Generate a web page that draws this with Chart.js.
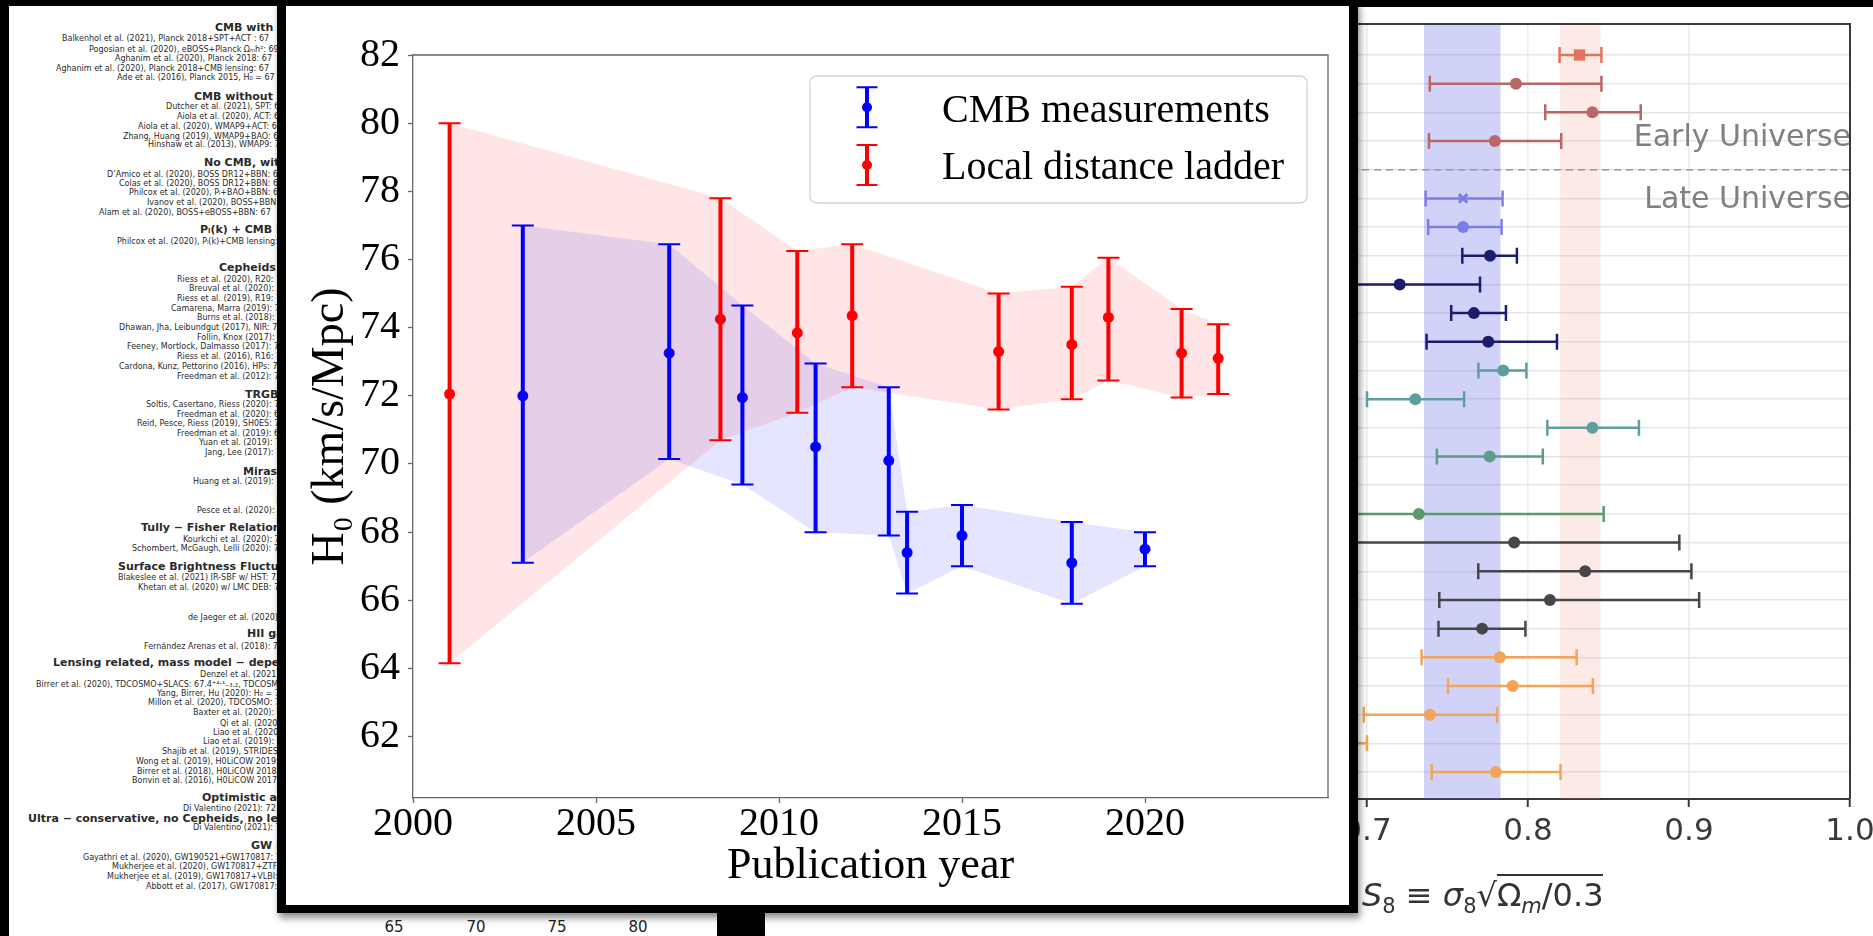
<!DOCTYPE html>
<html>
<head>
<meta charset="utf-8">
<script src="https://cdn.jsdelivr.net/npm/chart.js@4.4.1/dist/chart.umd.min.js"></script>
<style>
  html, body { margin: 0; padding: 0; }
  body { width: 1873px; height: 936px; overflow: hidden; background: #fff; position: relative; }
  #leftText div { position: absolute; white-space: nowrap; font-family: 'DejaVu Sans', sans-serif; color: #2a2a2a; line-height: 10px; }
  #leftText .n { font-size: 8px; }
  #leftText .b { font-size: 11px; font-weight: bold; line-height: 12px; }
  .blk { position: absolute; background: #000; }
  #mainPanel { position: absolute; left: 277px; top: 0; width: 1063px; height: 899px; border-style: solid; border-color: #000; border-width: 6px 9px 8px 9px; background: #fff; z-index: 5; box-shadow: 2px 5px 7px rgba(0,0,0,0.45); }
  #s8Wrap { position: absolute; left: 1150px; top: 7px; z-index: 1; }
  #s8Title { position: absolute; left: 1362px; top: 876px; font-family: 'DejaVu Sans', sans-serif; font-size: 32px; color: #333; white-space: nowrap; z-index: 2; }
  #s8Title sub { font-size: 21px; }
  .low { position: absolute; top: 918px; font-family: 'DejaVu Sans', sans-serif; font-size: 15px; color: #222; width: 40px; margin-left: -20px; text-align: center; }
</style>
</head>
<body>
<div id="leftText"></div>
<div class="low" style="left:394px">65</div>
<div class="low" style="left:476px">70</div>
<div class="low" style="left:557px">75</div>
<div class="low" style="left:638px">80</div>

<div id="s8Wrap"><canvas id="s8" width="760" height="929"></canvas></div>
<div id="s8Title"><i>S</i><sub>8</sub> ≡ <i>σ</i><sub>8</sub>√<span style="border-top:2px solid #333">Ω<sub><i>m</i></sub>/0.3</span></div>

<div class="blk" style="left:0;top:0;width:1873px;height:6px;z-index:3"></div>
<div class="blk" style="left:1358px;top:0;width:515px;height:7px;z-index:3"></div>
<div class="blk" style="left:0;top:0;width:9px;height:936px;z-index:3"></div>

<div id="mainPanel"><canvas id="chart" width="1063" height="899"></canvas></div>
<div class="blk" style="left:717px;top:910px;width:48px;height:26px;z-index:6"></div>

<script>
// ---- main chart data: H0 vs publication year ----
const cmbYear  = [2003, 2007, 2009, 2011, 2013, 2013.5, 2015, 2018, 2020];
const cmbH0    = [72.0, 73.25, 71.95, 70.5, 70.1, 67.4, 67.9, 67.1, 67.5];
const cmbLow   = [67.1, 70.15, 69.4, 68.0, 67.9, 66.2, 67.0, 65.9, 67.0];
const cmbHigh  = [77.0, 76.45, 74.65, 72.95, 72.25, 68.6, 68.8, 68.3, 68.0];

const localYear = [2001, 2008.4, 2010.5, 2012, 2016, 2018, 2019, 2021, 2022];
const localH0   = [72.05, 74.25, 73.85, 74.35, 73.3, 73.5, 74.3, 73.25, 73.1];
const localLow  = [64.15, 70.7, 71.5, 72.25, 71.6, 71.9, 72.45, 71.95, 72.05];
const localHigh = [80.0, 77.8, 76.25, 76.45, 75.0, 75.2, 76.05, 74.55, 74.1];

const yearTicks = [2000, 2005, 2010, 2015, 2020];
const h0Ticks   = [62, 64, 66, 68, 70, 72, 74, 76, 78, 80, 82];

// ---- background S8 panel data ----
const s8Row   = [0, 1, 2, 3, 5, 6, 7, 8, 9, 10, 11, 12, 13, 14, 16, 17, 18, 19, 20, 21, 22, 23, 24, 25];
const s8Value = [0.832, 0.7925, 0.840, 0.7794, 0.7597, 0.7597, 0.7764, 0.7203, 0.7664, 0.7753, 0.7846, 0.730, 0.840, 0.7762,
                 0.7322, 0.7914, 0.8355, 0.8136, 0.7715, 0.7825, 0.7905, 0.7391, 0.670, 0.780];
const s8Low   = [0.8196, 0.739, 0.8107, 0.7385, 0.7364, 0.738, 0.7592, 0.670, 0.7523, 0.737, 0.7692, 0.700, 0.812, 0.7434,
                 0.620, 0.680, 0.7691, 0.7449, 0.7444, 0.7339, 0.7503, 0.698, 0.640, 0.7402];
const s8High  = [0.8456, 0.8456, 0.870, 0.8206, 0.7842, 0.7836, 0.7931, 0.7702, 0.7863, 0.818, 0.799, 0.7603, 0.8689, 0.8092,
                 0.847, 0.894, 0.9015, 0.9063, 0.7984, 0.8302, 0.8403, 0.7808, 0.700, 0.8202];
const s8Group = ['planck', 'cmb', 'cmb', 'cmb', 'hscX', 'hsc', 'wl', 'wl', 'wl', 'wl', 'teal', 'teal', 'teal', 'teal2',
                 'green', 'gray', 'gray', 'gray', 'gray', 'orange', 'orange', 'orange', 'orange', 'orange'];
const s8GridRows = [0, 1, 2, 3, 4, 5, 6, 7, 8, 9, 10, 11, 12, 13, 14, 15, 16, 17, 18, 19, 20, 21, 22, 23, 24, 25];
const s8Ticks = [0.6, 0.7, 0.8, 0.9, 1.0];
const lateBand  = [0.7354, 0.7829];
const earlyBand = [0.820, 0.845];
const s8DividerRow = 4;
const s8Regions = ['Early Universe', 'Late Universe'];

const s8Style = {
  planck: { color: '#e2735e', marker: 'rect' },
  cmb:    { color: '#b86666', marker: 'circle' },
  hscX:   { color: '#7c7ee6', marker: 'crossRot' },
  hsc:    { color: '#7c7ee6', marker: 'circle' },
  wl:     { color: '#1c1c6c', marker: 'circle' },
  teal:   { color: '#5f9ea0', marker: 'circle' },
  teal2:  { color: '#5c9c88', marker: 'circle' },
  green:  { color: '#5a9a6c', marker: 'circle' },
  gray:   { color: '#474747', marker: 'circle' },
  orange: { color: '#f2a556', marker: 'circle' }
};

// ---- left text column (cropped list of measurements) ----
const leftLines = [
  [215, 28, 'CMB with Planck', 1],
  [62, 39, 'Balkenhol et al. (2021), Planck 2018+SPT+ACT : 67', 0],
  [89, 50, 'Pogosian et al. (2020), eBOSS+Planck Ωₘh²: 69', 0],
  [115, 59, 'Aghanim et al. (2020), Planck 2018: 67', 0],
  [56, 69, 'Aghanim et al. (2020), Planck 2018+CMB lensing: 67', 0],
  [117, 78, 'Ade et al. (2016), Planck 2015, H₀ = 67', 0],
  [194, 97, 'CMB without Planck', 1],
  [166, 107, 'Dutcher et al. (2021), SPT: 68', 0],
  [177, 117, 'Aiola et al. (2020), ACT: 67', 0],
  [138, 127, 'Aiola et al. (2020), WMAP9+ACT: 67', 0],
  [123, 137, 'Zhang, Huang (2019), WMAP9+BAO: 68', 0],
  [148, 145, 'Hinshaw et al. (2013), WMAP9: 70', 0],
  [204, 163, 'No CMB,  with BBN', 1],
  [107, 175, 'D’Amico et al. (2020), BOSS DR12+BBN: 68', 0],
  [119, 184, 'Colas et al. (2020), BOSS DR12+BBN: 68', 0],
  [129, 193, 'Philcox et al. (2020), Pₗ+BAO+BBN: 68', 0],
  [147, 203, 'Ivanov et al. (2020), BOSS+BBN: 67', 0],
  [99, 213, 'Alam et al. (2020), BOSS+eBOSS+BBN: 67', 0],
  [200, 230, 'Pₗ(k) + CMB lensing', 1],
  [117, 242, 'Philcox et al. (2020), Pₗ(k)+CMB lensing: 70', 0],
  [219, 268, 'Cepheids − SNIa', 1],
  [177, 280, 'Riess et al. (2020), R20: 73', 0],
  [189, 289, 'Breuval et al. (2020): 72', 0],
  [177, 299, 'Riess et al. (2019), R19: 74', 0],
  [171, 309, 'Camarena, Marra (2019): 75', 0],
  [197, 318, 'Burns et al. (2018): 73', 0],
  [119, 328, 'Dhawan, Jha, Leibundgut (2017), NIR: 72', 0],
  [197, 338, 'Follin, Knox (2017): 73', 0],
  [127, 347, 'Feeney, Mortlock, Dalmasso (2017): 73', 0],
  [177, 357, 'Riess et al. (2016), R16: 73', 0],
  [119, 367, 'Cardona, Kunz, Pettorino (2016), HPs: 73', 0],
  [177, 377, 'Freedman et al. (2012): 74', 0],
  [245, 395, 'TRGB − SNIa', 1],
  [146, 405, 'Soltis, Casertano, Riess (2020): 72', 0],
  [177, 415, 'Freedman et al. (2020): 69', 0],
  [137, 424, 'Reid, Pesce, Riess (2019), SH0ES: 71', 0],
  [177, 434, 'Freedman et al. (2019): 69', 0],
  [199, 443, 'Yuan et al. (2019): 72', 0],
  [205, 453, 'Jang, Lee (2017): 71', 0],
  [243, 472, 'Miras − SNIa', 1],
  [193, 482, 'Huang et al. (2019): 73', 0],
  [276, 500, 'Masers', 1],
  [197, 511, 'Pesce et al. (2020): 73', 0],
  [141, 528, 'Tully − Fisher Relation', 1],
  [183, 540, 'Kourkchi et al. (2020): 76', 0],
  [132, 549, 'Schombert, McGaugh, Lelli (2020): 75', 0],
  [118, 567, 'Surface Brightness Fluctuations', 1],
  [118, 578, 'Blakeslee et al. (2021) IR-SBF w/ HST: 73', 0],
  [138, 588, 'Khetan et al. (2020) w/ LMC DEB: 71', 0],
  [188, 618, 'de Jaeger et al. (2020): 75', 0],
  [247, 634, 'HII galaxies', 1],
  [144, 647, 'Fernández Arenas et al. (2018): 71', 0],
  [53, 663, 'Lensing related,  mass model − dependent', 1],
  [200, 675, 'Denzel et al. (2021): 71', 0],
  [36, 685, 'Birrer et al. (2020), TDCOSMO+SLACS: 67.4⁺⁴·¹₋₃.₂, TDCOSMO', 0],
  [157, 694, 'Yang, Birrer, Hu (2020): H₀ = 73', 0],
  [148, 703, 'Millon et al. (2020), TDCOSMO: 74', 0],
  [193, 713, 'Baxter et al. (2020): 73', 0],
  [220, 724, 'Qi et al. (2020): 73', 0],
  [213, 733, 'Liao et al. (2020): 72', 0],
  [203, 742, 'Liao et al. (2019): 72', 0],
  [162, 752, 'Shajib et al. (2019), STRIDES: 74', 0],
  [136, 762, 'Wong et al. (2019), H0LiCOW 2019: 73', 0],
  [137, 772, 'Birrer et al. (2018), H0LiCOW 2018: 72', 0],
  [132, 781, 'Bonvin et al. (2016), H0LiCOW 2017: 71', 0],
  [202, 798, 'Optimistic average', 1],
  [183, 809, 'Di Valentino (2021): 72', 0],
  [28, 819, 'Ultra − conservative,  no Cepheids,  no lensing', 1],
  [193, 828, 'Di Valentino (2021): 72', 0],
  [251, 846, 'GW related', 1],
  [83, 858, 'Gayathri et al. (2020), GW190521+GW170817: 73', 0],
  [112, 867, 'Mukherjee et al. (2020), GW170817+ZTF: 67', 0],
  [107, 877, 'Mukherjee et al. (2019), GW170817+VLBI: 68', 0],
  [146, 887, 'Abbott et al. (2017), GW170817: 70', 0]
];

const leftBox = document.getElementById('leftText');
leftLines.forEach(([x, y, t, b]) => {
  const d = document.createElement('div');
  d.className = b ? 'b' : 'n';
  d.textContent = t;
  d.style.left = x + 'px';
  d.style.top = (y - (b ? 6 : 5)) + 'px';
  leftBox.appendChild(d);
});

// ---- main chart ----
const serif = 'Liberation Serif, Times New Roman, serif';

const errorBars = {
  id: 'errorBars',
  afterDatasetsDraw(chart) {
    const { ctx, scales: { x, y } } = chart;
    ctx.save();
    chart.data.datasets.forEach(ds => {
      if (!ds.errLow) return;
      ds.data.forEach((p, i) => {
        const px = x.getPixelForValue(p.x);
        const lo = y.getPixelForValue(ds.errLow[i]);
        const hi = y.getPixelForValue(ds.errHigh[i]);
        ctx.strokeStyle = ds.pointBackgroundColor;
        ctx.lineWidth = 4;
        ctx.beginPath(); ctx.moveTo(px, lo); ctx.lineTo(px, hi); ctx.stroke();
        ctx.lineWidth = 2;
        ctx.beginPath();
        ctx.moveTo(px - 11, lo); ctx.lineTo(px + 11, lo);
        ctx.moveTo(px - 11, hi); ctx.lineTo(px + 11, hi);
        ctx.stroke();
      });
    });
    ctx.restore();
  },
  afterDraw(chart) {
    const { ctx, chartArea: a } = chart;
    ctx.save();
    // top and right spines
    ctx.strokeStyle = '#666';
    ctx.lineWidth = 1.3;
    ctx.beginPath();
    ctx.moveTo(a.left, a.top); ctx.lineTo(a.right, a.top); ctx.lineTo(a.right, a.bottom);
    ctx.stroke();

    // legend box
    const bx = a.right - 518, by = a.top + 21, bw = 497, bh = 127;
    ctx.fillStyle = 'rgba(255,255,255,0.85)';
    ctx.strokeStyle = '#d4d4d4';
    ctx.lineWidth = 1.3;
    ctx.beginPath();
    ctx.roundRect(bx, by, bw, bh, 7);
    ctx.fill(); ctx.stroke();

    const series = chart.data.datasets.filter(d => d.errLow);
    series.forEach((ds, i) => {
      const cy = by + 31.3 + i * 57.7;
      const mx = bx + 57;
      ctx.strokeStyle = ds.pointBackgroundColor;
      ctx.lineWidth = 4;
      ctx.beginPath(); ctx.moveTo(mx, cy - 20); ctx.lineTo(mx, cy + 20); ctx.stroke();
      ctx.lineWidth = 2;
      ctx.beginPath();
      ctx.moveTo(mx - 10.5, cy - 20); ctx.lineTo(mx + 10.5, cy - 20);
      ctx.moveTo(mx - 10.5, cy + 20); ctx.lineTo(mx + 10.5, cy + 20);
      ctx.stroke();
      ctx.fillStyle = ds.pointBackgroundColor;
      ctx.beginPath(); ctx.arc(mx, cy, 5, 0, Math.PI * 2); ctx.fill();
      ctx.fillStyle = '#000';
      ctx.font = '40px ' + serif;
      ctx.textAlign = 'left';
      ctx.textBaseline = 'alphabetic';
      ctx.fillText(ds.label, bx + 132, cy + 14.4);
    });
    ctx.restore();
  }
};

const ctx = document.getElementById('chart').getContext('2d');
const h0Chart = new Chart(ctx, {
  type: 'line',
  data: {
    datasets: [
      { label: 'cmb band', data: cmbYear.map((x, i) => ({ x, y: cmbHigh[i] })), fill: 1,
        backgroundColor: 'rgba(0,0,255,0.1)', borderColor: 'transparent', borderWidth: 0, pointRadius: 0, tension: 0 },
      { label: 'cmb band low', data: cmbYear.map((x, i) => ({ x, y: cmbLow[i] })), fill: false,
        borderColor: 'transparent', borderWidth: 0, pointRadius: 0, tension: 0 },
      { label: 'local band', data: localYear.map((x, i) => ({ x, y: localHigh[i] })), fill: 3,
        backgroundColor: 'rgba(255,0,0,0.1)', borderColor: 'transparent', borderWidth: 0, pointRadius: 0, tension: 0 },
      { label: 'local band low', data: localYear.map((x, i) => ({ x, y: localLow[i] })), fill: false,
        borderColor: 'transparent', borderWidth: 0, pointRadius: 0, tension: 0 },
      { label: 'CMB measurements', data: cmbYear.map((x, i) => ({ x, y: cmbH0[i] })), showLine: false,
        pointRadius: 5.5, pointBackgroundColor: '#0000ff', pointBorderWidth: 0,
        errLow: cmbLow, errHigh: cmbHigh },
      { label: 'Local distance ladder', data: localYear.map((x, i) => ({ x, y: localH0[i] })), showLine: false,
        pointRadius: 5.5, pointBackgroundColor: '#ff0000', pointBorderWidth: 0,
        errLow: localLow, errHigh: localHigh }
    ]
  },
  options: {
    responsive: false,
    animation: false,
    devicePixelRatio: 1,
    layout: { padding: { left: 0, right: 21, top: 49, bottom: 0 } },
    plugins: { legend: { display: false }, tooltip: { enabled: false } },
    scales: {
      x: {
        type: 'linear', min: 2000, max: 2025,
        afterBuildTicks: s => { s.ticks = yearTicks.map(v => ({ value: v })); },
        afterFit: s => { s.height = 107; },
        grid: { drawOnChartArea: false, tickLength: 5, color: '#666', tickColor: '#666', tickWidth: 1.3 },
        border: { color: '#666', width: 1.3 },
        ticks: { color: '#000', padding: 1, maxRotation: 0, font: { family: serif, size: 40, lineHeight: 1 },
                 callback: v => String(v) },
        title: { display: true, text: 'Publication year', color: '#000',
                 font: { family: serif, size: 44, lineHeight: 1.2 }, padding: { top: 0, bottom: 12 } }
      },
      y: {
        type: 'linear', min: 60.2, max: 82,
        afterBuildTicks: s => { s.ticks = h0Ticks.map(v => ({ value: v })); },
        afterFit: s => { s.width = 127; },
        grid: { drawOnChartArea: false, tickLength: 5, color: '#666', tickColor: '#666', tickWidth: 1.3 },
        border: { color: '#666', width: 1.3 },
        ticks: { color: '#000', padding: 8, font: { family: serif, size: 40, lineHeight: 1 },
                 callback: v => String(v) },
        title: { display: true, text: 'H₀ (km/s/Mpc)', color: '#000',
                 font: { family: serif, size: 46, lineHeight: 1.2 }, padding: { top: 17, bottom: 0 } }
      }
    }
  },
  plugins: [errorBars]
});

// ---- S8 chart in the background ----
const s8Draw = {
  id: 's8Draw',
  beforeDatasetsDraw(chart) {
    const { ctx, chartArea: a, scales: { x, y } } = chart;
    ctx.save();
    ctx.beginPath(); ctx.rect(a.left, a.top, a.width, a.height); ctx.clip();
    [[lateBand, 'rgba(100,110,230,0.3)'], [earlyBand, 'rgba(240,150,130,0.2)']].forEach(([b, c]) => {
      const x0 = x.getPixelForValue(b[0]), x1 = x.getPixelForValue(b[1]);
      ctx.fillStyle = c;
      ctx.fillRect(x0, a.top, x1 - x0, a.height);
    });
    const dy = y.getPixelForValue(s8DividerRow);
    ctx.strokeStyle = '#9a9a9a'; ctx.lineWidth = 1.5; ctx.setLineDash([7, 5]);
    ctx.beginPath(); ctx.moveTo(a.left, dy); ctx.lineTo(a.right, dy); ctx.stroke();
    ctx.setLineDash([]);
    s8Row.forEach((r, i) => {
      const py = y.getPixelForValue(r);
      const lo = x.getPixelForValue(s8Low[i]), hi = x.getPixelForValue(s8High[i]);
      ctx.strokeStyle = s8Style[s8Group[i]].color;
      ctx.lineWidth = 2.5;
      ctx.beginPath();
      ctx.moveTo(lo, py); ctx.lineTo(hi, py);
      ctx.moveTo(lo, py - 8); ctx.lineTo(lo, py + 8);
      ctx.moveTo(hi, py - 8); ctx.lineTo(hi, py + 8);
      ctx.stroke();
    });
    ctx.restore();
  },
  afterDraw(chart) {
    const { ctx, chartArea: a, scales: { y } } = chart;
    ctx.save();
    ctx.fillStyle = '#808080';
    ctx.font = '30px DejaVu Sans, sans-serif';
    ctx.textAlign = 'right';
    ctx.textBaseline = 'middle';
    ctx.fillText(s8Regions[0], a.right + 1, y.getPixelForValue(s8DividerRow - 1.1));
    ctx.fillText(s8Regions[1], a.right + 1, y.getPixelForValue(s8DividerRow + 1.05));
    ctx.strokeStyle = '#3a3a3a';
    ctx.lineWidth = 2;
    ctx.beginPath();
    ctx.moveTo(a.left, a.top); ctx.lineTo(a.right, a.top); ctx.lineTo(a.right, a.bottom);
    ctx.stroke();
    ctx.restore();
  }
};

const s8Ctx = document.getElementById('s8').getContext('2d');
const s8Chart = new Chart(s8Ctx, {
  type: 'scatter',
  data: {
    datasets: [{
      data: s8Row.map((r, i) => ({ x: s8Value[i], y: r })),
      pointStyle: c => s8Style[s8Group[c.dataIndex]].marker,
      pointRadius: c => s8Style[s8Group[c.dataIndex]].marker === 'rect' ? 8 : 6,
      pointBackgroundColor: c => s8Style[s8Group[c.dataIndex]].color,
      pointBorderColor: c => s8Style[s8Group[c.dataIndex]].color,
      pointBorderWidth: c => s8Style[s8Group[c.dataIndex]].marker === 'crossRot' ? 3 : 0
    }]
  },
  options: {
    responsive: false,
    animation: false,
    devicePixelRatio: 1,
    layout: { padding: { left: 56, right: 60, top: 17, bottom: 0 } },
    plugins: { legend: { display: false }, tooltip: { enabled: false } },
    scales: {
      x: {
        type: 'linear', min: 0.6, max: 1.0,
        afterBuildTicks: s => { s.ticks = s8Ticks.map(v => ({ value: v })); },
        afterFit: s => { s.height = 137; },
        grid: { color: '#ececec', lineWidth: 1.5, tickColor: '#3a3a3a', tickWidth: 2, tickLength: 8 },
        border: { color: '#3a3a3a', width: 2 },
        ticks: { color: '#3a3a3a', padding: 9, maxRotation: 0,
                 font: { family: 'DejaVu Sans, sans-serif', size: 31, lineHeight: 1 },
                 callback: v => v.toFixed(1) }
      },
      y: {
        type: 'linear', reverse: true, min: -1.08, max: 25.94,
        afterBuildTicks: s => { s.ticks = s8GridRows.map(v => ({ value: v })); },
        afterFit: s => { s.width = 0; },
        grid: { color: '#e6e6e6', lineWidth: 1.5, drawTicks: false },
        border: { display: false },
        ticks: { display: false }
      }
    }
  },
  plugins: [s8Draw]
});
</script>
</body>
</html>
